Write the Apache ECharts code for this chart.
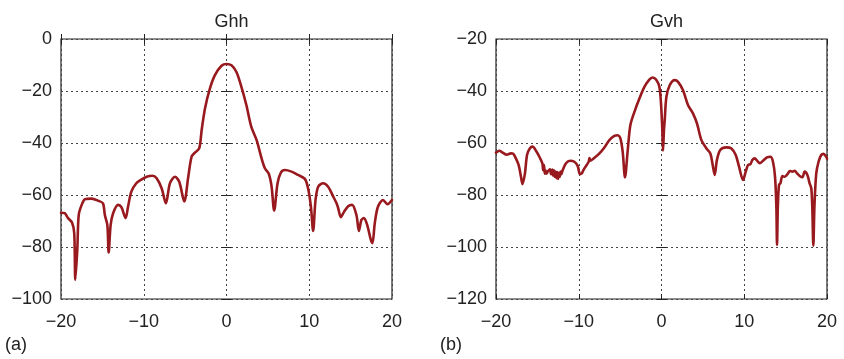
<!DOCTYPE html>
<html>
<head>
<meta charset="utf-8">
<script src="https://cdn.jsdelivr.net/npm/echarts@6/dist/echarts.min.js"></script>
<style>
  html, body { margin: 0; padding: 0; background: #fff; }
  #chart { width: 844px; height: 359px; }
</style>
</head>
<body>
<div id="chart"></div>
<script>
// Antenna gain patterns (dB) versus angle (degrees)
const angleTicks = [-20, -10, 0, 10, 20];

const ghhAngle = [-20, -19.55, -19.15, -18.67, -18.4, -18.27, -18.03, -17.86, -17.5, -17.1, -16.3, -15.5, -14.93, -14.7, -14.4, -14.24, -14.0, -13.7, -13.1, -12.7, -12.19, -11.9, -11.5, -10.9, -10.4, -9.65, -8.93, -8.44, -7.84, -7.32, -6.84, -6.23, -5.71, -5.1, -4.62, -4.22, -3.82, -3.3, -3.0, -2.6, -2.0, -1.4, -0.6, 0, 0.6, 1.2, 1.8, 2.4, 3.0, 3.64, 4.24, 4.64, 5.12, 5.45, 5.76, 6.17, 6.57, 7.05, 7.86, 8.66, 9.47, 9.87, 10.2, 10.47, 10.76, 11.08, 11.68, 12.28, 12.9, 13.3, 13.5, 13.82, 14.2, 14.7, 15.18, 15.7, 16.0, 16.3, 16.6, 17.0, 17.44, 17.64, 17.92, 18.3, 18.92, 19.45, 20];
const ghhGain = [-66.8, -67, -68.9, -70.6, -74.7, -92.6, -81, -67.7, -63.8, -61.6, -61.4, -62.2, -63.2, -67.7, -71.5, -82.1, -71.5, -67, -63.8, -64.7, -68.9, -64.5, -58.7, -55.5, -54.3, -53, -52.6, -53.6, -57.4, -63.2, -55.5, -53, -54.9, -62.5, -53, -45.3, -43.7, -42.1, -35, -26.7, -19, -13.9, -10.3, -9.6, -10.1, -12.7, -18.4, -25.4, -33.8, -38.9, -45.9, -49.7, -51.9, -56.8, -66, -55.5, -51.4, -50.4, -51, -52.3, -53.8, -57.6, -64.5, -73.8, -61.9, -56.8, -55.5, -56.8, -60.6, -63.2, -65.1, -68.5, -66.5, -64.3, -63.8, -67.7, -73.8, -69.6, -68.9, -71.5, -77.2, -78.5, -70.8, -64.5, -61.9, -63.5, -61.9];

const gvhAngle = [-20, -19.6, -19.2, -18.7, -18.2, -17.9, -17.6, -17.26, -16.98, -16.8, -16.5, -16.25, -15.9, -15.57, -15.17, -14.76, -14.4, -14.3, -14.2, -14.1, -14.0, -13.9, -13.75, -13.6, -13.47, -13.35, -13.2, -13.1, -13.0, -12.9, -12.8, -12.7, -12.6, -12.5, -12.4, -12.3, -12.2, -12.1, -11.94, -11.54, -11.06, -10.53, -10.13, -9.85, -9.6, -9.5, -9.24, -8.8, -8.7, -8.6, -8.1, -7.5, -6.9, -6.3, -5.7, -5.3, -4.97, -4.69, -4.41, -4.08, -3.76, -3.27, -2.67, -2.07, -1.47, -1.07, -0.66, -0.26, -0.06, 0.1, 0.18, 0.3, 0.39, 0.59, 0.99, 1.6, 2.0, 2.6, 3.2, 3.8, 4.29, 4.82, 5.43, 5.9, 6.15, 6.43, 6.7, 7.1, 7.84, 8.45, 8.97, 9.37, 9.85, 10.18, 10.45, 10.75, 10.99, 11.27, 11.55, 11.87, 12.27, 12.75, 13.16, 13.47, 13.72, 13.88, 13.96, 14.06, 14.2, 14.37, 14.61, 14.89, 15.29, 15.5, 15.82, 16.1, 16.38, 16.7, 17.03, 17.3, 17.63, 17.9, 18.1, 18.22, 18.35, 18.48, 18.7, 18.98, 19.3, 19.58, 19.9, 20];
const gvhGain = [-63.7, -63, -63.7, -64.5, -64, -64.2, -65.9, -68.5, -73, -75.8, -71.7, -64.6, -62, -61.4, -63, -65.3, -67.8, -70.5, -68.5, -71.8, -70.6, -71.8, -71, -70.4, -70.1, -72, -70.2, -72.5, -70.5, -73, -71, -73.5, -71.2, -73.8, -71.5, -73, -71, -72, -70.4, -67.8, -66.8, -67.2, -68.8, -72, -71.6, -70.8, -69.4, -67.2, -65.8, -66.8, -65.7, -64, -61.7, -58.9, -57.3, -57, -58.2, -63.4, -73.2, -62.7, -53.1, -48, -42.9, -38.4, -35.6, -34.8, -35.6, -38.4, -44.8, -55, -63, -55, -51.2, -42.3, -37.8, -35.8, -36.5, -39.7, -45.4, -48.6, -52.5, -58.9, -62.1, -64, -67.8, -72.3, -66.5, -62.7, -61.7, -62.1, -64.6, -69.1, -74.2, -71, -68.5, -68.1, -66.5, -65.9, -66.8, -67.8, -66.8, -65.5, -65.3, -67.2, -73, -84.5, -99.2, -84.5, -76.1, -75.5, -72.7, -73, -71.7, -70.8, -71, -70.7, -71.7, -72.7, -73.2, -71, -72.3, -75.5, -77.4, -84.5, -99.5, -84.5, -71.7, -67.2, -64.6, -64.2, -65.3, -66];

const panels = [
  { title: 'Ghh', tag: '(a)', angle: ghhAngle, gain: ghhGain, yMin: -100, yMax: 0, left: 61, right: 452 },
  { title: 'Gvh', tag: '(b)', angle: gvhAngle, gain: gvhGain, yMin: -120, yMax: -20, left: 496, right: 17 }
];

const FONT = '"Liberation Sans", Arial, Helvetica, sans-serif';
const INK = '#222';
const LINE = '#98191e';
const SIZE = 18;
const fmt = v => (v < 0 ? '\u2212' + Math.abs(v) : String(v));

const chart = echarts.init(document.getElementById('chart'), null, { renderer: 'canvas' });

const grid = [], xAxis = [], yAxis = [], series = [], title = [], graphic = [];
panels.forEach((p, i) => {
  grid.push({ left: p.left, right: p.right, top: 39, bottom: 60, show: true, borderColor: INK, borderWidth: 1.2, backgroundColor: 'transparent' });
  const gridLine = { show: true, lineStyle: { color: '#444', type: [2, 3], width: 1 } };
  const tick = { show: true, inside: true, length: 5, lineStyle: { color: INK } };
  // bottom and top angle axes
  xAxis.push({
    gridIndex: i, type: 'value', min: angleTicks[0], max: angleTicks[angleTicks.length - 1], interval: 10, position: 'bottom',
    axisLine: { show: false }, axisTick: tick,
    axisLabel: { formatter: fmt, color: INK, fontSize: SIZE, fontFamily: FONT, margin: 14 },
    splitLine: gridLine
  });
  xAxis.push({
    gridIndex: i, type: 'value', min: angleTicks[0], max: angleTicks[angleTicks.length - 1], interval: 10, position: 'top',
    axisLine: { show: false }, axisTick: tick,
    axisLabel: { show: false }, splitLine: { show: false }
  });
  // left and right gain axes
  yAxis.push({
    gridIndex: i, type: 'value', min: p.yMin, max: p.yMax, interval: 20, position: 'left',
    axisLine: { show: false }, axisTick: tick,
    axisLabel: { formatter: fmt, color: INK, fontSize: SIZE, fontFamily: FONT, margin: 9 },
    splitLine: gridLine
  });
  yAxis.push({
    gridIndex: i, type: 'value', min: p.yMin, max: p.yMax, interval: 20, position: 'right',
    axisLine: { show: false }, axisTick: tick,
    axisLabel: { show: false }, splitLine: { show: false }
  });
  series.push({
    type: 'line', xAxisIndex: i * 2, yAxisIndex: i * 2,
    data: p.angle.map((a, k) => [a, p.gain[k]]),
    showSymbol: false, smooth: 0.3,
    lineStyle: { color: LINE, width: 2.6, join: 'round', cap: 'round' }, animation: false
  });
  const cx = i === 0 ? (61 + (844 - 452)) / 2 : (496 + (844 - 17)) / 2;
  title.push({ text: p.title, left: cx, top: 8, textAlign: 'center',
    textStyle: { fontSize: SIZE, fontWeight: 'normal', color: INK, fontFamily: FONT } });
  graphic.push({ type: 'text', left: i === 0 ? 5 : 440, top: 336,
    style: { text: p.tag, fontSize: SIZE, fill: INK, fontFamily: FONT } });
});

chart.setOption({ animation: false, title, grid, xAxis, yAxis, series, graphic });
</script>
</body>
</html>
